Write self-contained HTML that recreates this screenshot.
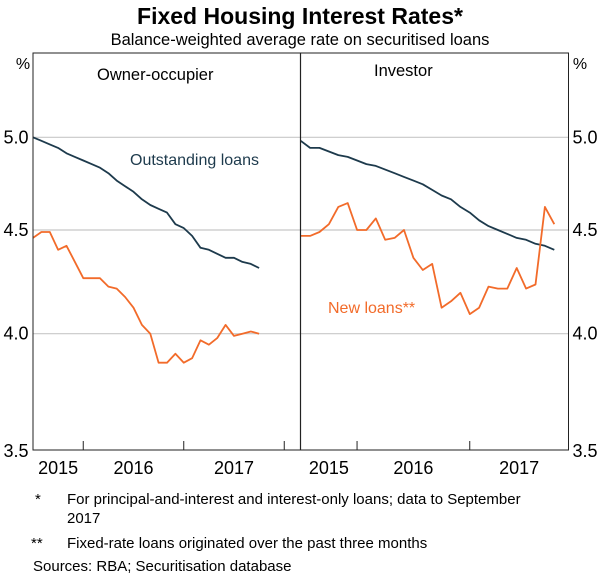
<!DOCTYPE html>
<html><head><meta charset="utf-8"><style>
html,body{margin:0;padding:0;background:#fff;}
svg{display:block;font-family:"Liberation Sans",Arial,sans-serif;}
</style></head><body>
<svg id="chart" width="600" height="576">
<text x="300" y="24" text-anchor="middle" font-size="23" font-weight="bold">Fixed Housing Interest Rates*</text>
<text x="300" y="45" text-anchor="middle" font-size="16.5">Balance-weighted average rate on securitised loans</text>
<g id="grid"></g>
<g id="series"></g>
<rect x="33" y="53" width="535.5" height="397" fill="none" stroke="#222" stroke-width="1"/>
<line x1="300.5" y1="53" x2="300.5" y2="450" stroke="#222" stroke-width="1.2"/>
<g id="axes"></g>
<text x="97" y="80" font-size="16.5">Owner-occupier</text>
<text x="374" y="76" font-size="16.5">Investor</text>
<text x="130" y="165" font-size="16" fill="#1d3a4c">Outstanding loans</text>
<text x="328" y="313" font-size="16" fill="#f26b2a">New loans**</text>
<text x="23" y="69" text-anchor="middle" font-size="16">%</text>
<text x="580" y="69" text-anchor="middle" font-size="16">%</text>
<text x="35" y="504" font-size="15">*</text>
<text x="67" y="504" font-size="15">For principal-and-interest and interest-only loans; data to September</text>
<text x="67" y="523" font-size="15">2017</text>
<text x="31" y="548" font-size="15">**</text>
<text x="67" y="548" font-size="15">Fixed-rate loans originated over the past three months</text>
<text x="33" y="571" font-size="15">Sources: RBA; Securitisation database</text>
</svg>
<script>
const yTicks = [3.5, 4.0, 4.5, 5.0];
const yearLabels = ["2015", "2016", "2017"];
const ownerOutstanding = [5.00,4.98,4.96,4.94,4.91,4.89,4.87,4.85,4.83,4.80,4.76,4.73,4.70,4.66,4.63,4.61,4.59,4.53,4.51,4.47,4.41,4.40,4.38,4.36,4.36,4.34,4.33,4.31];
const ownerNew = [4.46,4.49,4.49,4.40,4.42,4.34,4.26,4.26,4.26,4.22,4.21,4.17,4.12,4.04,4.00,3.87,3.87,3.91,3.87,3.89,3.97,3.95,3.98,4.04,3.99,4.00,4.01,4.00];
const investorOutstanding = [4.98,4.94,4.94,4.92,4.90,4.89,4.87,4.85,4.84,4.82,4.80,4.78,4.76,4.74,4.71,4.68,4.66,4.62,4.59,4.55,4.52,4.50,4.48,4.46,4.45,4.43,4.42,4.40];
const investorNew = [4.47,4.47,4.49,4.53,4.62,4.64,4.50,4.50,4.56,4.45,4.46,4.50,4.36,4.30,4.33,4.12,4.15,4.19,4.09,4.12,4.22,4.21,4.21,4.31,4.21,4.23,4.62,4.53];

const NS = "http://www.w3.org/2000/svg";
const Y0 = 137.3, K = 880;
function yScale(v){ return Y0 + K*(Math.log(5) - Math.log(v)); }
const panels = [
  {x0:33, x1:300.5, pxYear:100.5, own:ownerOutstanding, neu:ownerNew, name:"owner"},
  {x0:300.7, x1:568.5, pxYear:112.7, own:investorOutstanding, neu:investorNew, name:"investor"}
];
function xScale(p, t){ return p.x0 + (t - 2015.5)*p.pxYear; }
function mk(tag, attrs, parent){ const e=document.createElementNS(NS,tag); for(const k in attrs) e.setAttribute(k,attrs[k]); parent.appendChild(e); return e; }

const grid = document.getElementById("grid");
const axes = document.getElementById("axes");
const series = document.getElementById("series");

yTicks.forEach(v=>{
  const y = yScale(v);
  if (v > 3.5) {
    const gl = mk("line",{x1:33,x2:568.5,y1:y,y2:y,stroke:"#c8c8c8","stroke-width":1.2},grid);
    
    
  }
  const l = mk("text",{x:16,y:y+6,"text-anchor":"middle","font-size":18},axes);
  l.textContent = v.toFixed(1);
  
  
  const r = mk("text",{x:585,y:y+6,"text-anchor":"middle","font-size":18},axes);
  r.textContent = v.toFixed(1);
  
  
});

panels.forEach(p=>{
  [2016,2017,2018].forEach(yr=>{
    const x = xScale(p, yr);
    if (x < p.x1 - 2) {
      const t = mk("line",{x1:x,x2:x,y1:450,y2:441,stroke:"#222","stroke-width":1},axes);
      
      
    }
  });
  yearLabels.forEach((lab,i)=>{
    const yr = 2015 + i;
    const a = Math.max(xScale(p, yr), p.x0), b = Math.min(xScale(p, yr+1), p.x1);
    const t = mk("text",{x:(a+b)/2,y:474,"text-anchor":"middle","font-size":18},axes);
    t.textContent = lab;
    
    
  });
  [[p.own,"#1d3a4c","outstanding"],[p.neu,"#f26b2a","new"]].forEach(([arr,col,nm])=>{
    const pts = arr.map((v,i)=>xScale(p, 2015.5 + i/12).toFixed(1)+","+yScale(v).toFixed(1)).join(" ");
    const pl = mk("polyline",{points:pts,fill:"none",stroke:col,"stroke-width":1.8,"stroke-linejoin":"round"},series);
    
    
  });
});
</script>
</body></html>
